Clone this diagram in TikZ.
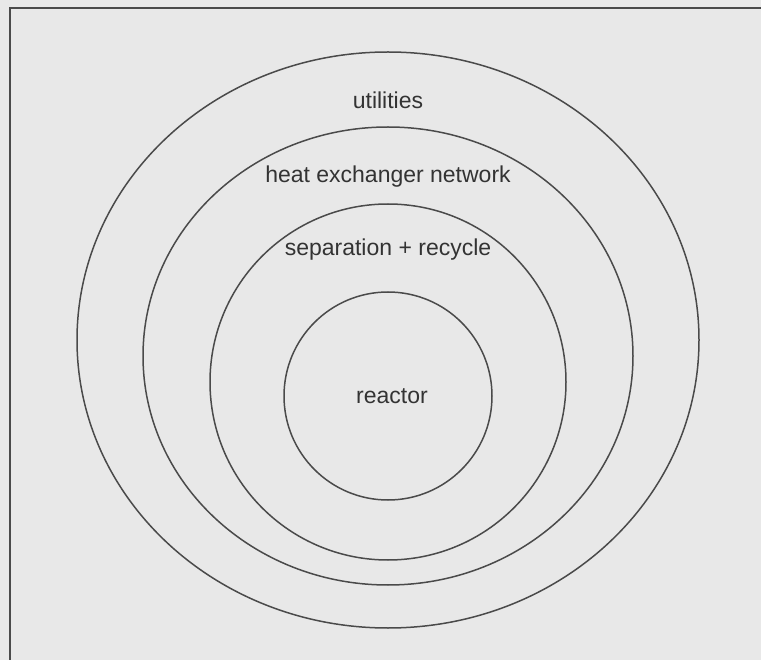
\documentclass[tikz,border=0pt]{standalone}
\usepackage{fontspec}
\setmainfont{Liberation Sans}
\definecolor{bg}{HTML}{E8E8E8}
\definecolor{ln}{HTML}{4A4A4A}
\definecolor{tx}{HTML}{333333}
\begin{document}
\begin{tikzpicture}[x=1pt,y=-1pt,
  ring/.style={draw=ln,line width=1.5pt},
  lbl/.style={text=tx,font=\fontsize{23}{27}\selectfont,inner sep=0pt}]
\fill[bg] (0,0) rectangle (761,660);
\useasboundingbox (0,0) rectangle (761,660);
\draw[ln,line width=2pt] (9.5,660) -- (9.5,8.5) -- (761,8.5);
\draw[ring] (388,340) ellipse [x radius=311, y radius=288];
\draw[ring] (388,356) ellipse [x radius=245, y radius=229];
\draw[ring] (388,382) ellipse [x radius=178, y radius=178];
\draw[ring] (388,396) circle [radius=104];
\node[lbl] (u) at (388,100) {utilities};
\node[lbl] (h) at (388,177) {heat exchanger network};
\node[lbl] (s) at (388,250) {separation + recycle};
\node[lbl] (r) at (392,396) {reactor};
\end{tikzpicture}
\end{document}
